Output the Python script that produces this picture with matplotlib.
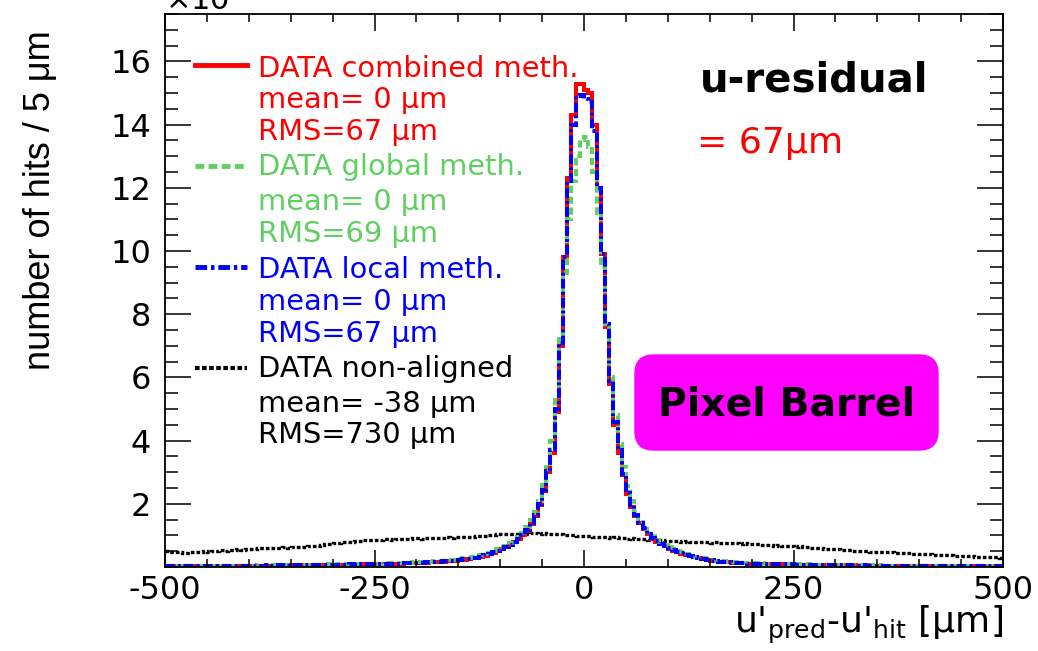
import numpy as np
import matplotlib.pyplot as plt
from matplotlib.lines import Line2D
from matplotlib.patches import FancyBboxPatch
from matplotlib.ticker import MultipleLocator

# residual histograms, 5 um bins from -500 to 500 um, in units of 10^3 hits
bin_edges = np.arange(-500, 505, 5)

combined = [
    0.02, 0.02, 0.03, 0.02, 0.02, 0.03, 0.02, 0.03, 0.03, 0.02, 0.03, 0.03, 0.02, 0.03, 0.03, 0.03, 0.04, 0.03, 0.03, 0.04,
    0.03, 0.04, 0.04, 0.03, 0.04, 0.04, 0.05, 0.04, 0.04, 0.05, 0.05, 0.04, 0.05, 0.05, 0.06, 0.05, 0.05, 0.06, 0.06, 0.06,
    0.06, 0.07, 0.06, 0.07, 0.07, 0.07, 0.08, 0.08, 0.08, 0.09, 0.09, 0.09, 0.10, 0.10, 0.10, 0.11, 0.11, 0.12, 0.12, 0.13,
    0.13, 0.14, 0.14, 0.15, 0.16, 0.17, 0.17, 0.18, 0.19, 0.20, 0.22, 0.23, 0.25, 0.27, 0.29, 0.32, 0.36, 0.40, 0.45, 0.51,
    0.57, 0.63, 0.70, 0.78, 0.88, 1.00, 1.15, 1.35, 1.60, 1.95, 2.40, 3.00, 3.60, 4.90, 7.00, 9.80, 12.3, 14.3, 15.3, 15.3,
    15.1, 15.0, 14.0, 12.0, 9.90, 7.60, 5.80, 4.50, 3.60, 2.90, 2.30, 1.90, 1.60, 1.38, 1.20, 1.03, 0.90, 0.80, 0.72, 0.65,
    0.58, 0.52, 0.47, 0.42, 0.38, 0.34, 0.31, 0.28, 0.25, 0.22, 0.20, 0.18, 0.17, 0.16, 0.15, 0.14, 0.13, 0.12, 0.12, 0.11,
    0.11, 0.10, 0.10, 0.09, 0.09, 0.09, 0.08, 0.08, 0.08, 0.07, 0.07, 0.07, 0.06, 0.07, 0.06, 0.06, 0.06, 0.05, 0.06, 0.05,
    0.05, 0.05, 0.05, 0.04, 0.05, 0.04, 0.04, 0.05, 0.04, 0.04, 0.04, 0.03, 0.04, 0.04, 0.03, 0.04, 0.03, 0.03, 0.04, 0.03,
    0.03, 0.03, 0.03, 0.02, 0.03, 0.03, 0.02, 0.03, 0.02, 0.03, 0.02, 0.02, 0.03, 0.02, 0.02, 0.02, 0.03, 0.02, 0.02, 0.02,
]

global_meth = [
    0.02, 0.03, 0.02, 0.03, 0.03, 0.03, 0.02, 0.03, 0.03, 0.03, 0.04, 0.03, 0.03, 0.03, 0.04, 0.04, 0.03, 0.04, 0.04, 0.04,
    0.04, 0.04, 0.05, 0.04, 0.05, 0.05, 0.05, 0.05, 0.06, 0.05, 0.06, 0.06, 0.06, 0.06, 0.07, 0.06, 0.07, 0.07, 0.07, 0.08,
    0.07, 0.08, 0.08, 0.08, 0.09, 0.09, 0.09, 0.10, 0.10, 0.10, 0.11, 0.11, 0.12, 0.12, 0.12, 0.13, 0.13, 0.14, 0.14, 0.15,
    0.15, 0.16, 0.17, 0.17, 0.18, 0.19, 0.20, 0.21, 0.22, 0.23, 0.25, 0.27, 0.29, 0.31, 0.34, 0.37, 0.41, 0.45, 0.50, 0.56,
    0.62, 0.68, 0.75, 0.84, 0.95, 1.08, 1.26, 1.48, 1.75, 2.10, 2.60, 3.25, 4.00, 5.30, 7.20, 9.30, 11.0, 12.2, 13.0, 13.5,
    13.6, 13.3, 12.5, 11.2, 9.50, 7.60, 6.00, 4.80, 3.90, 3.15, 2.55, 2.10, 1.75, 1.50, 1.30, 1.12, 0.98, 0.87, 0.78, 0.70,
    0.63, 0.57, 0.51, 0.46, 0.41, 0.37, 0.33, 0.30, 0.27, 0.25, 0.22, 0.20, 0.19, 0.18, 0.17, 0.16, 0.15, 0.14, 0.14, 0.13,
    0.13, 0.12, 0.12, 0.11, 0.11, 0.10, 0.10, 0.10, 0.09, 0.09, 0.09, 0.08, 0.08, 0.08, 0.07, 0.07, 0.07, 0.07, 0.06, 0.06,
    0.06, 0.06, 0.06, 0.05, 0.05, 0.05, 0.05, 0.05, 0.05, 0.04, 0.05, 0.04, 0.04, 0.04, 0.04, 0.04, 0.04, 0.03, 0.04, 0.03,
    0.03, 0.04, 0.03, 0.03, 0.03, 0.03, 0.03, 0.03, 0.02, 0.03, 0.03, 0.03, 0.02, 0.03, 0.02, 0.03, 0.02, 0.02, 0.03, 0.02,
]

local_meth = [
    0.03, 0.02, 0.02, 0.03, 0.03, 0.02, 0.03, 0.02, 0.03, 0.03, 0.03, 0.02, 0.03, 0.04, 0.03, 0.03, 0.03, 0.04, 0.04, 0.03,
    0.04, 0.04, 0.03, 0.04, 0.05, 0.04, 0.04, 0.05, 0.05, 0.04, 0.05, 0.05, 0.06, 0.05, 0.05, 0.06, 0.06, 0.05, 0.06, 0.07,
    0.06, 0.07, 0.07, 0.07, 0.08, 0.07, 0.08, 0.08, 0.09, 0.09, 0.09, 0.10, 0.10, 0.10, 0.11, 0.11, 0.12, 0.12, 0.13, 0.13,
    0.14, 0.14, 0.15, 0.16, 0.16, 0.17, 0.18, 0.19, 0.20, 0.21, 0.23, 0.24, 0.26, 0.28, 0.30, 0.33, 0.37, 0.41, 0.46, 0.52,
    0.58, 0.64, 0.71, 0.80, 0.90, 1.02, 1.18, 1.38, 1.65, 2.00, 2.45, 3.05, 3.70, 5.00, 7.10, 9.80, 12.2, 14.0, 14.9, 14.95,
    14.8, 14.7, 13.8, 12.0, 9.90, 7.70, 5.90, 4.60, 3.70, 2.95, 2.35, 1.95, 1.63, 1.40, 1.22, 1.05, 0.92, 0.82, 0.73, 0.66,
    0.59, 0.53, 0.48, 0.43, 0.39, 0.35, 0.32, 0.29, 0.26, 0.23, 0.21, 0.19, 0.17, 0.16, 0.15, 0.14, 0.13, 0.12, 0.12, 0.11,
    0.11, 0.10, 0.10, 0.10, 0.09, 0.09, 0.08, 0.08, 0.08, 0.08, 0.07, 0.07, 0.07, 0.06, 0.06, 0.06, 0.06, 0.06, 0.05, 0.05,
    0.05, 0.05, 0.05, 0.05, 0.04, 0.04, 0.05, 0.04, 0.04, 0.04, 0.04, 0.04, 0.03, 0.04, 0.04, 0.03, 0.03, 0.04, 0.03, 0.03,
    0.03, 0.03, 0.03, 0.03, 0.02, 0.03, 0.03, 0.02, 0.03, 0.02, 0.02, 0.03, 0.02, 0.02, 0.03, 0.02, 0.02, 0.02, 0.02, 0.02,
]

non_aligned = [
    0.50, 0.49, 0.48, 0.46, 0.45, 0.44, 0.46, 0.47, 0.48, 0.50, 0.49, 0.51, 0.52, 0.53, 0.52, 0.54, 0.55, 0.56, 0.55, 0.57,
    0.58, 0.57, 0.59, 0.60, 0.59, 0.60, 0.61, 0.60, 0.62, 0.61, 0.62, 0.63, 0.62, 0.64, 0.65, 0.66, 0.68, 0.70, 0.72, 0.74,
    0.76, 0.77, 0.79, 0.80, 0.80, 0.82, 0.83, 0.84, 0.85, 0.84, 0.86, 0.87, 0.88, 0.88, 0.87, 0.89, 0.90, 0.89, 0.90, 0.91,
    0.91, 0.90, 0.92, 0.92, 0.91, 0.93, 0.92, 0.94, 0.93, 0.95, 0.94, 0.95, 0.96, 0.95, 0.97, 0.98, 0.99, 1.00, 1.02, 1.03,
    1.04, 1.03, 1.05, 1.06, 1.05, 1.07, 1.06, 1.08, 1.07, 1.06, 1.07, 1.05, 1.06, 1.04, 1.03, 1.02, 1.01, 1.00, 0.99, 0.98,
    0.97, 0.98, 0.96, 0.95, 0.96, 0.94, 0.93, 0.94, 0.92, 0.91, 0.90, 0.91, 0.89, 0.88, 0.89, 0.87, 0.86, 0.85, 0.84, 0.83,
    0.82, 0.82, 0.81, 0.80, 0.81, 0.79, 0.80, 0.78, 0.79, 0.78, 0.77, 0.78, 0.76, 0.77, 0.76, 0.75, 0.76, 0.74, 0.75, 0.73,
    0.72, 0.73, 0.71, 0.70, 0.69, 0.68, 0.69, 0.67, 0.66, 0.66, 0.64, 0.65, 0.63, 0.62, 0.61, 0.60, 0.60, 0.58, 0.57, 0.57,
    0.56, 0.55, 0.54, 0.54, 0.52, 0.51, 0.50, 0.50, 0.49, 0.48, 0.48, 0.47, 0.46, 0.46, 0.45, 0.44, 0.44, 0.43, 0.42, 0.42,
    0.41, 0.41, 0.40, 0.39, 0.38, 0.38, 0.37, 0.37, 0.36, 0.36, 0.35, 0.34, 0.34, 0.33, 0.33, 0.32, 0.32, 0.31, 0.31, 0.30,
]

legend_entries = [
    ("DATA combined meth.", "mean= 0 μm", "RMS=67 μm"),
    ("DATA global meth.", "mean= 0 μm", "RMS=69 μm"),
    ("DATA local meth.", "mean= 0 μm", "RMS=67 μm"),
    ("DATA non-aligned", "mean= -38 μm", "RMS=730 μm"),
]

green = '#5fd05f'
colors = ['red', green, 'blue', 'black']
styles = ['-', (0, (1.8, 0.9)), (0, (2.4, 0.8, 0.7, 0.8)), (0, (1.1, 0.6))]
widths = [2.9, 2.9, 2.9, 2.4]

W, H = 1038, 651
plt.rcParams['font.family'] = ['DejaVu Sans']
fig = plt.figure(figsize=(W / 100, H / 100), dpi=100)
ax = fig.add_axes([165 / W, 1 - 567 / H, (1003 - 165) / W, (567 - 14) / H])

ax.stairs(non_aligned, bin_edges, baseline=None, color=colors[3], lw=widths[3], ls=styles[3])
ax.stairs(combined, bin_edges, baseline=None, color=colors[0], lw=widths[0], ls=styles[0])
ax.stairs(global_meth, bin_edges, baseline=None, color=colors[1], lw=widths[1], ls=styles[1])
ax.stairs(local_meth, bin_edges, baseline=None, color=colors[2], lw=widths[2], ls=styles[2])

ax.set_xlim(-500, 500)
ax.set_ylim(0, 17.5)
ax.set_xticks([-500, -250, 0, 250, 500])
ax.set_xticklabels(['-500', '-250', '0', '250', '500'])
ax.xaxis.set_minor_locator(MultipleLocator(50))
ax.set_yticks(range(2, 17, 2))
ax.yaxis.set_minor_locator(MultipleLocator(0.5))
ax.tick_params(which='both', direction='in', top=True, right=True, width=1.1, labelsize=23)
ax.tick_params(axis='x', which='major', length=12, pad=6)
ax.tick_params(axis='x', which='minor', length=6)
ax.tick_params(axis='y', which='major', length=18.5, pad=10)
ax.tick_params(axis='y', which='minor', length=9.5)
for sp in ax.spines.values():
    sp.set_linewidth(1.3)

# axis titles in ROOT style
fig.text(41 / W, 1 - 30 / H, "number of hits / 5 μm", rotation=90, ha='center', va='top',
         fontsize=26, family=['Liberation Sans'])
fig.text(1003 / W, 1 - 633 / H, r"u$'_{\rm pred}$-u$'_{\rm hit}$ [μm]", ha='right', va='baseline',
         fontsize=26)
fig.text(165 / W, 1 - 10 / H, r"$\times$10$^{3}$", ha='left', va='baseline', fontsize=22)

# legend
line_y = [65, 166, 267, 368]
base_y = [[77, 108, 140], [175, 210, 242], [278, 310, 342], [377, 412, 443]]
for k, rows in enumerate(legend_entries):
    fig.add_artist(Line2D([195 / W, 247 / W], [1 - line_y[k] / H] * 2, color=colors[k],
                          lw=widths[k] + 0.6, ls=styles[k]))
    for txt, yb in zip(rows, base_y[k]):
        fig.text(258 / W, 1 - yb / H, txt, color=colors[k], fontsize=20.8, va='baseline')

fig.text(700 / W, 1 - 92 / H, "u-residual", fontsize=29, fontweight='bold', va='baseline')
fig.text(697 / W, 1 - 153 / H, "= 67μm", fontsize=26, color='red', va='baseline')

box = FancyBboxPatch((635 / W, 1 - 450 / H), 303 / W, 95 / H,
                     boxstyle='round,pad=0,rounding_size=0.018', mutation_aspect=W / H,
                     transform=fig.transFigure, fc='#ff00ff', ec='#ff00ff')
fig.add_artist(box)
fig.text(786 / W, 1 - 415 / H, "Pixel Barrel", fontsize=28.4, fontweight='bold',
         ha='center', va='baseline')

fig.savefig('out.png', dpi=100)
